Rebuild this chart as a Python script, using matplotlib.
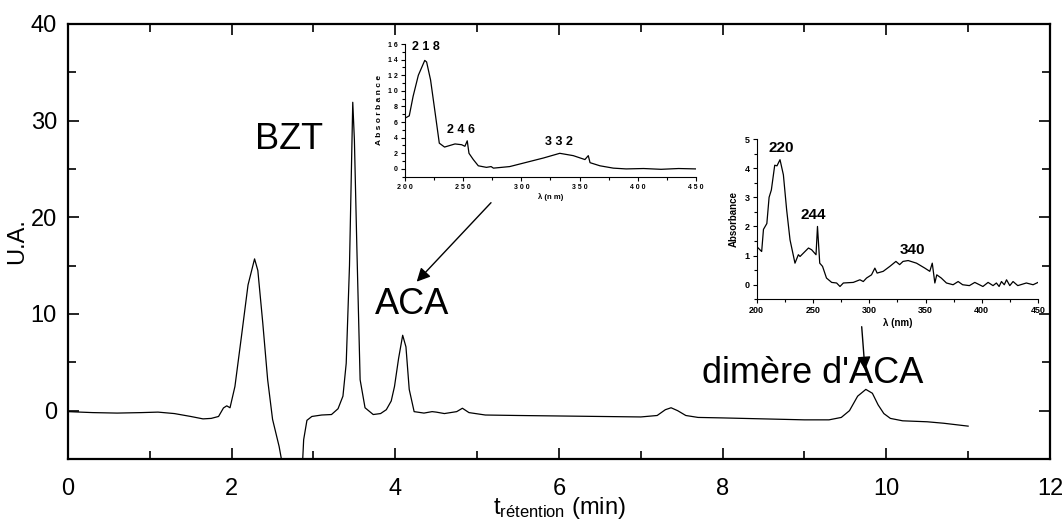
import matplotlib
matplotlib.use('Agg')
import matplotlib.pyplot as plt
from matplotlib.ticker import MultipleLocator, FuncFormatter

plt.rcParams['font.family'] = ['Liberation Sans', 'DejaVu Sans']
plt.rcParams['mathtext.fontset'] = 'custom'
plt.rcParams['mathtext.rm'] = 'Liberation Sans'

# chromatogramme
t_min = [0.0, 0.3, 0.6, 0.9, 1.1, 1.3, 1.5, 1.65, 1.75, 1.84, 1.90, 1.94, 1.98, 2.04, 2.12,
         2.20, 2.28, 2.32, 2.38, 2.44, 2.50, 2.58, 2.64, 2.86, 2.88, 2.92, 2.98, 3.10, 3.22,
         3.30, 3.36, 3.40, 3.44, 3.48, 3.50, 3.53, 3.57, 3.63, 3.73, 3.82, 3.89, 3.95, 3.99,
         4.04, 4.09, 4.13, 4.17, 4.23, 4.35, 4.45, 4.50, 4.60, 4.75, 4.82, 4.90, 5.10, 5.50,
         6.00, 6.50, 7.00, 7.20, 7.30, 7.37, 7.45, 7.55, 7.70, 8.00, 8.50, 9.00, 9.30, 9.45,
         9.55, 9.65, 9.75, 9.83, 9.90, 9.97, 10.05, 10.2, 10.5, 10.7, 11.0]
ua = [-0.1, -0.2, -0.25, -0.2, -0.15, -0.3, -0.6, -0.85, -0.8, -0.6, 0.28, 0.5, 0.3, 2.5, 7.7,
      13.0, 15.7, 14.5, 9.1, 3.2, -0.9, -3.7, -6.5, -6.5, -3.0, -1.0, -0.6, -0.45, -0.4,
      0.2, 1.5, 4.9, 15.0, 31.9, 28.0, 16.9, 3.2, 0.3, -0.4, -0.3, 0.1, 1.0, 2.5,
      5.4, 7.8, 6.6, 2.2, -0.1, -0.25, -0.1, -0.15, -0.3, -0.1, 0.25, -0.2, -0.45, -0.5,
      -0.55, -0.6, -0.65, -0.5, 0.1, 0.3, 0.0, -0.5, -0.7, -0.75, -0.85, -0.95, -0.95, -0.7,
      0.0, 1.5, 2.2, 1.8, 0.6, -0.3, -0.8, -1.05, -1.15, -1.3, -1.6]

# spectre UV de l'ACA
wl1 = [200, 203.7, 207, 211.5, 217, 218.6, 222, 226, 229.5, 234, 243, 248.7, 251.5, 253.5,
       255, 258.7, 263, 270, 274, 276, 290, 304.5, 319, 333, 344.6, 354.6, 357.5, 359,
       367.5, 379, 390, 405, 420, 435, 450]
abs1 = [6.5, 6.8, 9.3, 12.0, 13.9, 13.7, 11.4, 7.1, 3.3, 2.8, 3.2, 3.1, 2.9, 3.6,
        2.0, 1.2, 0.4, 0.2, 0.3, 0.1, 0.3, 0.85, 1.4, 2.0, 1.7, 1.2, 1.7, 0.8,
        0.4, 0.1, 0.0, 0.05, -0.05, 0.05, 0.0]
peaks1 = ['2 1 8', '2 4 6', '3 3 2']
peaks1_pos = [(218, 14.8), (248, 4.2), (332, 2.7)]

# spectre UV du dimère
wl2 = [200, 204.4, 206, 209, 211, 213, 216, 218, 220.7, 223.7, 226.6, 229.6, 234, 237, 238.5,
       246, 248.8, 252.7, 254, 256, 258.5, 262, 266.6, 271, 274, 277, 285.8, 291.7, 294.7,
       297.6, 302, 305, 307, 312.4, 318.3, 323.7, 327, 330, 334.6, 342, 349.4, 353.8, 356,
       358.3, 360, 364, 368.6, 374.5, 379, 383, 389, 393.8, 401, 405.6, 410, 413, 415.4,
       417.5, 420, 422, 424.9, 427.8, 432, 439.6, 445.6, 450]
abs2 = [1.31, 1.14, 1.9, 2.1, 3.0, 3.25, 4.1, 4.08, 4.29, 3.77, 2.57, 1.54, 0.74, 1.03, 0.97,
        1.26, 1.2, 1.03, 2.0, 0.74, 0.63, 0.23, 0.08, 0.06, -0.06, 0.06, 0.08, 0.17, 0.11,
        0.23, 0.34, 0.57, 0.4, 0.46, 0.63, 0.8, 0.69, 0.8, 0.83, 0.74, 0.57, 0.46, 0.74,
        0.06, 0.34, 0.23, 0.06, 0.0, 0.11, 0.0, -0.03, 0.08, -0.06, 0.08, -0.03, 0.06, -0.06,
        0.11, 0.0, 0.17, -0.03, 0.11, -0.03, 0.06, 0.0, 0.08]
peaks2 = ['220', '244', '340']
peaks2_pos = [(222, 4.45), (250, 2.15), (338, 0.95)]

fig = plt.figure(figsize=(10.64, 5.21), dpi=100)
ax = fig.add_axes([0.0639, 0.119, 0.9229, 0.835])
ax.plot(t_min, ua, color='black', lw=0.9)
ax.set_xlim(0, 12)
ax.set_ylim(-5, 40)
ax.xaxis.set_major_locator(MultipleLocator(2))
ax.xaxis.set_minor_locator(MultipleLocator(1))
ax.yaxis.set_major_locator(MultipleLocator(10))
ax.yaxis.set_minor_locator(MultipleLocator(5))
ax.tick_params(which='both', direction='in', top=True, right=True, width=1.2, labelsize=17)
ax.tick_params(which='major', length=8, pad=8)
ax.tick_params(which='minor', length=6)
ax.tick_params(axis='x', which='major', pad=14)
for s in ax.spines.values():
    s.set_linewidth(1.6)
ax.set_ylabel('U.A.', fontsize=17, labelpad=2)
ax.set_xlabel(r'$\mathregular{t_{rétention}}$ (min)', fontsize=17, labelpad=-4)

ax.text(2.7, 28.0, 'BZT', fontsize=26, ha='center', va='center')
ax.text(4.2, 11.0, 'ACA', fontsize=26, ha='center', va='center')
ax.text(9.1, 3.8, "dimère d'ACA", fontsize=26, ha='center', va='center')

# flèches depuis les spectres
ax.annotate('', xy=(416.7, 521 - 281.7), xytext=(491, 521 - 202.7),
            xycoords='figure pixels', textcoords='figure pixels',
            arrowprops=dict(arrowstyle='-|>', color='black', lw=1.0, mutation_scale=20,
                            shrinkA=0, shrinkB=0))
ax.annotate('', xy=(865, 521 - 370), xytext=(861.7, 521 - 326.7),
            xycoords='figure pixels', textcoords='figure pixels',
            arrowprops=dict(arrowstyle='-|>', color='black', lw=1.0, mutation_scale=20,
                            shrinkA=0, shrinkB=0))

spaced = FuncFormatter(lambda v, p: ' '.join(str(int(round(v)))))

ins1 = fig.add_axes([0.3806, 0.6608, 0.2735, 0.2547])
ins1.plot(wl1, abs1, color='black', lw=0.9)
ins1.set_xlim(200, 450)
ins1.set_ylim(-1, 16)
ins1.spines['top'].set_visible(False)
ins1.spines['right'].set_visible(False)
ins1.xaxis.set_major_locator(MultipleLocator(50))
ins1.xaxis.set_minor_locator(MultipleLocator(25))
ins1.yaxis.set_major_locator(MultipleLocator(2))
ins1.yaxis.set_minor_locator(MultipleLocator(1))
ins1.xaxis.set_major_formatter(spaced)
ins1.yaxis.set_major_formatter(spaced)
ins1.tick_params(which='both', direction='out', width=0.8)
ins1.tick_params(which='major', length=3, labelsize=5, pad=2)
ins1.tick_params(which='minor', length=2)
for lab in ins1.get_xticklabels() + ins1.get_yticklabels():
    lab.set_fontweight('bold')
ins1.set_xlabel('λ (n m)', fontsize=5.5, fontweight='bold', labelpad=2)
ins1.set_ylabel('A b s o r b a n c e', fontsize=6, fontweight='bold', labelpad=4)
for lab, (x, y) in zip(peaks1, peaks1_pos):
    ins1.text(x, y, lab, fontsize=9, fontweight='bold', ha='center', va='bottom')

ins2 = fig.add_axes([0.7112, 0.4255, 0.2644, 0.3077])
ins2.plot(wl2, abs2, color='black', lw=0.9)
ins2.set_xlim(200, 450)
ins2.set_ylim(-0.5, 5)
ins2.spines['top'].set_visible(False)
ins2.spines['right'].set_visible(False)
ins2.xaxis.set_major_locator(MultipleLocator(50))
ins2.xaxis.set_minor_locator(MultipleLocator(25))
ins2.yaxis.set_major_locator(MultipleLocator(1))
ins2.yaxis.set_minor_locator(MultipleLocator(0.5))
ins2.tick_params(which='both', direction='out', width=0.8)
ins2.tick_params(which='major', length=3, labelsize=6.5, pad=2)
ins2.tick_params(which='minor', length=2)
for lab in ins2.get_xticklabels() + ins2.get_yticklabels():
    lab.set_fontweight('bold')
ins2.set_xlabel('λ (nm)', fontsize=7, fontweight='bold', labelpad=2)
ins2.set_ylabel('Absorbance', fontsize=7, fontweight='bold', labelpad=4)
for lab, (x, y) in zip(peaks2, peaks2_pos):
    ins2.text(x, y, lab, fontsize=11, fontweight='bold', ha='center', va='bottom')

fig.savefig('out.png', dpi=100)
